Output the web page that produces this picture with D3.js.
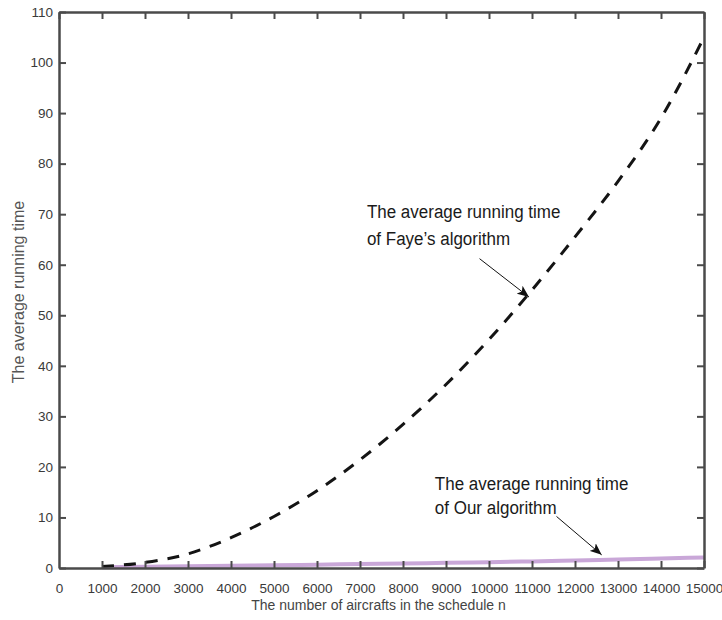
<!DOCTYPE html>
<html>
<head>
<meta charset="utf-8">
<script src="https://cdn.jsdelivr.net/npm/d3@7"></script>
<style>
  body { margin: 0; background: #fff; }
  svg { font-family: "Liberation Sans", Arial, sans-serif; }
  .axis path, .axis line { stroke: #4a4a4a; }
  .axis path { stroke-width: 2.5; }
  .axis line { stroke-width: 2; }
  .axis text { fill: #3a3a3a; font-size: 13.5px; }
</style>
</head>
<body>
<script>
// ==================== Data ============================
const nValues  = [1000, 2000, 3000, 4000, 5000, 6000, 7000, 8000, 9000, 10000, 11000, 12000, 13000, 14000, 15000];
const fayeTime = [0.3, 1.1, 2.8, 6.0, 10.2, 15.3, 21.4, 28.4, 36.3, 45.2, 55.0, 65.5, 76.5, 89.0, 105.0];
const ourTime  = [0.15, 0.25, 0.35, 0.45, 0.55, 0.65, 0.78, 0.9, 1.02, 1.15, 1.3, 1.48, 1.68, 1.88, 2.1];

const xTickValues = [0, 1000, 2000, 3000, 4000, 5000, 6000, 7000, 8000, 9000, 10000, 11000, 12000, 13000, 14000, 15000];
const yTickValues = [0, 10, 20, 30, 40, 50, 60, 70, 80, 90, 100, 110];

const xLabel = 'The number of aircrafts in the schedule n';
const yLabel = 'The average running time';

// annotation text lines
const fayeNote = ['The average running time', 'of Faye\u2019s algorithm'];
const ourNote  = ['The average running time', 'of Our algorithm'];

// ==================== Set up Variables ============================
const margin = {top: 12, right: 18, bottom: 52, left: 59},
      width = 722 - margin.left - margin.right,
      height = 620 - margin.top - margin.bottom;

const x = d3.scaleLinear().domain([0, 15000]).range([0, width]),
      y = d3.scaleLinear().domain([0, 110]).range([height, 0]);

const svg = d3.select('body')
            .append('svg')
              .attr('width', width + margin.left + margin.right)
              .attr('height', height + margin.top + margin.bottom)
            .append('g')
              .attr('transform', `translate(${margin.left}, ${margin.top})`);

// arrowhead
svg.append('defs').append('marker')
    .attr('id', 'head')
    .attr('viewBox', '0 0 12 10')
    .attr('refX', 12)
    .attr('refY', 5)
    .attr('markerWidth', 12)
    .attr('markerHeight', 10)
    .attr('markerUnits', 'userSpaceOnUse')
    .attr('orient', 'auto')
  .append('path')
    .attr('d', 'M0,0 L12,5 L0,10 L3,5 Z')
    .attr('fill', '#111');

// ==================== Lines ============================
const valueline = d3.line()
    .curve(d3.curveMonotoneX)
    .x((d, i) => x(nValues[i]))
    .y((d) => y(d));

svg.append('path')
    .datum(ourTime)
    .attr('fill', 'none')
    .attr('stroke', '#c9a7d8')
    .attr('stroke-width', 4)
    .attr('d', valueline);

svg.append('path')
    .datum(fayeTime)
    .attr('fill', 'none')
    .attr('stroke', '#141414')
    .attr('stroke-width', 3)
    .style('stroke-dasharray', ('12, 10'))
    .attr('d', valueline);

// ==================== Axes (box with inward ticks) ============================
svg.append('g')
    .attr('class', 'axis')
    .attr('transform', `translate(0, ${height})`)
    .call(d3.axisBottom(x).tickValues(xTickValues).tickFormat(d3.format('d'))
      .tickSizeInner(-7).tickSizeOuter(0).tickPadding(15));

svg.append('g')
    .attr('class', 'axis')
    .call(d3.axisTop(x).tickValues(xTickValues).tickFormat('')
      .tickSizeInner(-7).tickSizeOuter(0));

svg.append('g')
    .attr('class', 'axis')
    .call(d3.axisLeft(y).tickValues(yTickValues)
      .tickSizeInner(-7).tickSizeOuter(0).tickPadding(6));

svg.append('g')
    .attr('class', 'axis')
    .attr('transform', `translate(${width}, 0)`)
    .call(d3.axisRight(y).tickValues(yTickValues).tickFormat('')
      .tickSizeInner(-7).tickSizeOuter(0));

// first/last ticks sit on the frame; hide them
svg.selectAll('.axis .tick').filter((d, i, n) => i === 0 || i === n.length - 1)
    .select('line').remove();

// ==================== Axis labels ============================
svg.append('text')
    .attr('x', x(7500) - 3)
    .attr('y', height + 42)
    .style('text-anchor', 'middle')
    .style('font-size', '14px')
    .style('fill', '#444')
    .text(xLabel);

svg.append('text')
    .attr('transform', `translate(${-margin.left + 24}, ${y(55) + 2}) rotate(-90)`)
    .style('text-anchor', 'middle')
    .style('font-size', '16px')
    .style('fill', '#555')
    .text(yLabel);

// ==================== Annotations ============================
const addNote = (lines, tx, ty, lineGap, from, to) => {
  const g = svg.append('g')
      .attr('transform', `translate(${x(tx)}, ${y(ty)}) scale(1, 1.12)`);
  lines.forEach((s, i) => {
    g.append('text')
      .attr('x', 0)
      .attr('y', i * lineGap / 1.12)
      .style('font-size', '17px')
      .style('fill', '#1a1a1a')
      .text(s);
  });
  svg.append('line')
      .attr('x1', x(from[0])).attr('y1', y(from[1]))
      .attr('x2', x(to[0])).attr('y2', y(to[1]))
      .attr('stroke', '#111')
      .attr('stroke-width', 1)
      .attr('marker-end', 'url(#head)');
};

addNote(fayeNote, 7160, 69.2, 27, [9780, 61.2], [10930, 53.6]);
addNote(ourNote, 8740, 15.4, 24, [11570, 10.2], [12620, 2.6]);
</script>
</body>
</html>
